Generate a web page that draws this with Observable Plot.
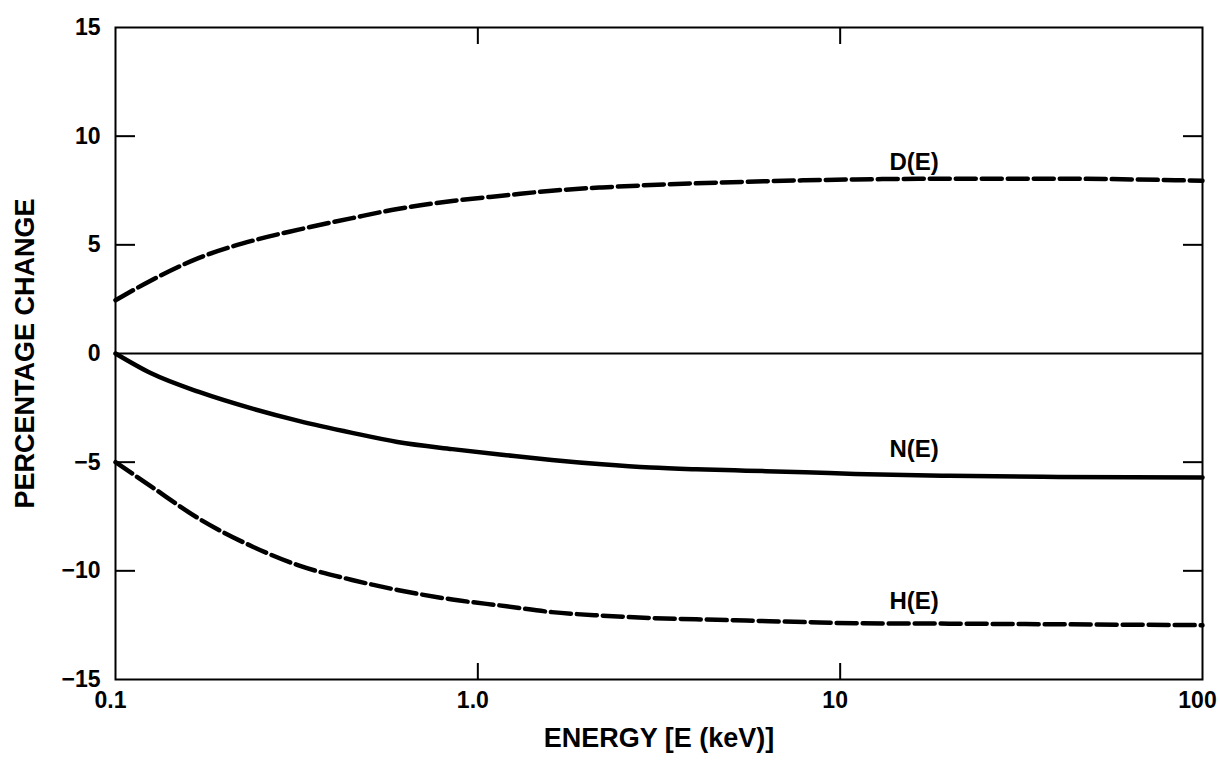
<!DOCTYPE html>
<html>
<head>
<meta charset="utf-8">
<script src="https://cdn.jsdelivr.net/npm/d3@7"></script>
<script src="https://cdn.jsdelivr.net/npm/@observablehq/plot@0.6"></script>
<style>
  html, body { margin: 0; padding: 0; background: #fff; }
  #chart svg { font-family: "Liberation Sans", Arial, Helvetica, sans-serif; font-weight: bold; }
</style>
</head>
<body>
<div id="chart"></div>
<script>
// Energy grid (keV) and percentage changes
const energy  = [0.1, 0.125, 0.17, 0.24, 0.32, 0.45, 0.6, 0.85, 1.2, 1.6, 2.2, 3, 4, 5.5, 8, 11, 20, 40, 100];
const dValues = [2.45, 3.35, 4.4, 5.2, 5.7, 6.23, 6.65, 7.02, 7.28, 7.49, 7.64, 7.75, 7.83, 7.9, 7.97, 8.01, 8.04, 8.04, 7.95];
const nValues = [0, -0.9, -1.77, -2.55, -3.1, -3.65, -4.07, -4.4, -4.68, -4.9, -5.1, -5.25, -5.33, -5.39, -5.46, -5.54, -5.63, -5.68, -5.7];
const hValues = [-5.0, -6.1, -7.6, -8.9, -9.75, -10.42, -10.88, -11.32, -11.63, -11.9, -12.06, -12.17, -12.23, -12.29, -12.36, -12.41, -12.43, -12.46, -12.5];

const xTicks = [0.1, 1, 10, 100];
const xTickLabels = ["0.1", "1.0", "10", "100"];
const xInnerTicks = [1, 10];
const yTicks = [-15, -10, -5, 0, 5, 10, 15];
const yInnerTicks = [-10, -5, 5, 10];

const curveNames = ["D(E)", "N(E)", "H(E)"];
const labelEnergy = [16, 16, 16];
const labelValues = [8.8, -4.4, -11.4];

const xTitle = "ENERGY [E (keV)]";
const yTitle = "PERCENTAGE CHANGE";

const series = (vals) => energy.map((e, i) => ({ e, v: vals[i] }));

const chart = Plot.plot({
  width: 1220,
  height: 781,
  marginLeft: 115,
  marginRight: 18,
  marginTop: 27,
  marginBottom: 102,
  x: { type: "log", domain: [0.1, 100] },
  y: { domain: [-15, 15] },
  style: { fontFamily: '"Liberation Sans", Arial, sans-serif', fontSize: "23px", fontWeight: "bold", color: "#000", background: "#fff" },
  marks: [
    Plot.frame({ stroke: "#000", strokeWidth: 2 }),
    Plot.ruleY([0], { stroke: "#000", strokeWidth: 2 }),
    // tick labels
    Plot.axisY({ ticks: yTicks, tickSize: 0, tickPadding: 15, label: null, fontSize: 23, tickFormat: d => d < 0 ? "\u2212" + Math.abs(d) : String(d) }),
    Plot.axisX({ ticks: xTicks, tickSize: 0, tickPadding: 12, dx: -5, label: null, fontSize: 23, tickFormat: d => xTickLabels[xTicks.indexOf(d)] }),
    // inward tick marks
    Plot.axisY({ ticks: yInnerTicks, anchor: "left", tickSize: -20, fill: "none", label: null, strokeWidth: 2 }),
    Plot.axisY({ ticks: yInnerTicks, anchor: "right", tickSize: -20, fill: "none", label: null, strokeWidth: 2 }),
    Plot.axisX({ ticks: xInnerTicks, anchor: "bottom", tickSize: -16, fill: "none", label: null, strokeWidth: 2 }),
    Plot.axisX({ ticks: xInnerTicks, anchor: "top", tickSize: -16, fill: "none", label: null, strokeWidth: 2 }),
    // curves
    Plot.line(series(dValues), { x: "e", y: "v", stroke: "#000", strokeWidth: 4.5, strokeDasharray: "20,6", curve: "monotone-x" }),
    Plot.line(series(nValues), { x: "e", y: "v", stroke: "#000", strokeWidth: 4.5, curve: "monotone-x" }),
    Plot.line(series(hValues), { x: "e", y: "v", stroke: "#000", strokeWidth: 4.5, strokeDasharray: "20,6", curve: "monotone-x" }),
    // curve labels
    Plot.text(curveNames, { x: (d, i) => labelEnergy[i], y: (d, i) => labelValues[i], text: d => d, fontSize: 24, fontWeight: "bold", fill: "#000" }),
    // axis titles
    Plot.text([yTitle], { frameAnchor: "left", dx: -90, rotate: -90, textAnchor: "middle", lineAnchor: "middle", text: d => d, fontSize: 27, fontWeight: "bold", fill: "#000" }),
    Plot.text([xTitle], { frameAnchor: "bottom", dy: 59, textAnchor: "middle", lineAnchor: "middle", text: d => d, fontSize: 27, fontWeight: "bold", fill: "#000" })
  ]
});
document.getElementById("chart").appendChild(chart);
</script>
</body>
</html>
